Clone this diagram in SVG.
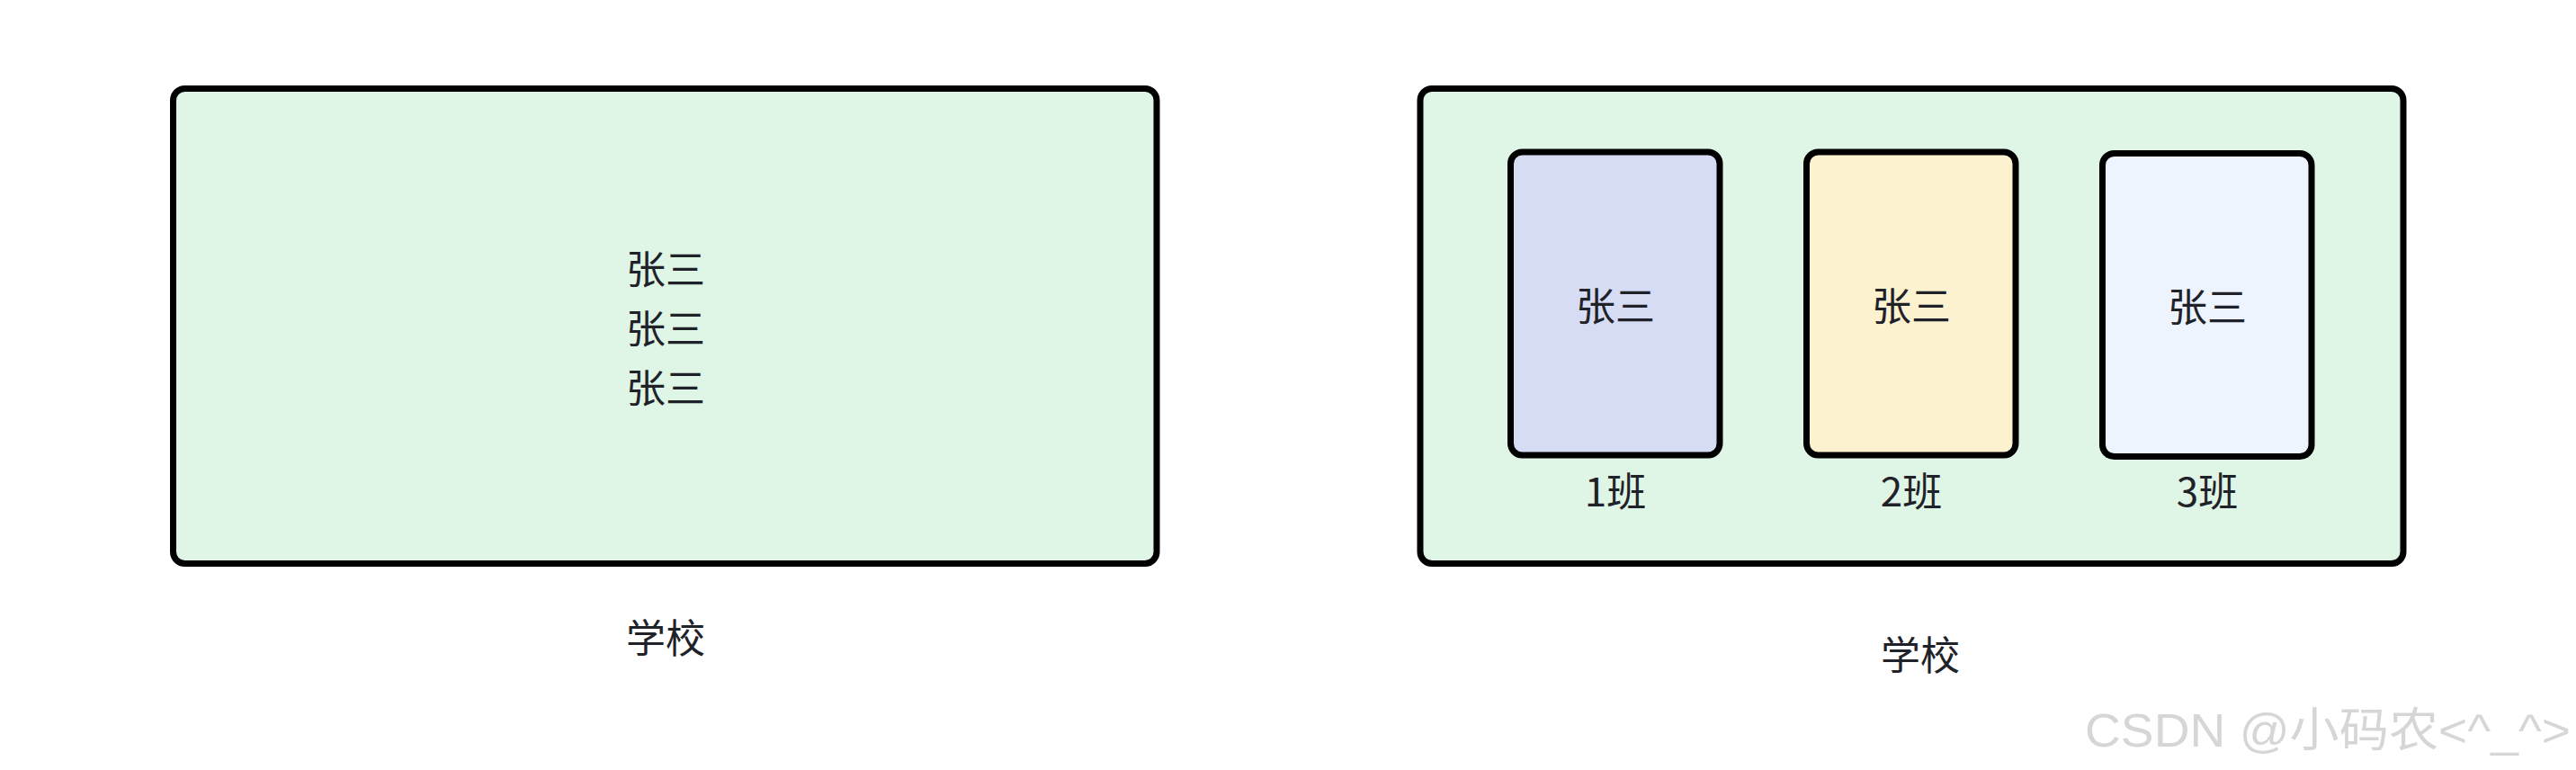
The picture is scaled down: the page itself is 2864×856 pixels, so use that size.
<svg xmlns="http://www.w3.org/2000/svg" width="2864" height="856" viewBox="0 0 2864 856">
<style>
.box{stroke:#000;stroke-width:7}
.school{fill:#dff5e5}
.t{font-family:"Noto Sans CJK SC","Noto Sans",sans-serif;font-size:44px;fill:#1f2329;text-anchor:middle}
.wm{font-family:"Liberation Sans","Noto Sans CJK SC",sans-serif;font-size:52px;fill:#d6d6d6}
</style>
<rect width="2864" height="856" fill="#fff"/>
<g id="school-left">
<rect class="box school" x="192.5" y="98.5" width="1093.5" height="528" rx="13"/>
<text class="t" x="740" y="316">张三</text>
<text class="t" x="740" y="382">张三</text>
<text class="t" x="740" y="448">张三</text>
<text class="t" x="740" y="726">学校</text>
</g>
<g id="school-right">
<rect class="box school" x="1579" y="98.5" width="1093" height="528" rx="13"/>
<text class="t" x="2135" y="745">学校</text>
</g>
<g id="class-1">
<rect class="box" fill="#d7dcf5" x="1679.5" y="169" width="232.5" height="337" rx="13"/>
<text class="t" x="1796" y="357">张三</text>
<text class="t" x="1796" y="563">1班</text>
</g>
<g id="class-2">
<rect class="box" fill="#fdf2d0" x="2008.5" y="169" width="232.5" height="337" rx="13"/>
<text class="t" x="2125" y="357">张三</text>
<text class="t" x="2125" y="563">2班</text>
</g>
<g id="class-3">
<rect class="box" fill="#eef4fd" x="2337.5" y="170.5" width="232.5" height="337" rx="13"/>
<text class="t" x="2454" y="358">张三</text>
<text class="t" x="2454" y="563">3班</text>
</g>
<text class="wm" x="2318" y="830" textLength="540" lengthAdjust="spacingAndGlyphs">CSDN @小码农&lt;^_^&gt;</text>
</svg>
